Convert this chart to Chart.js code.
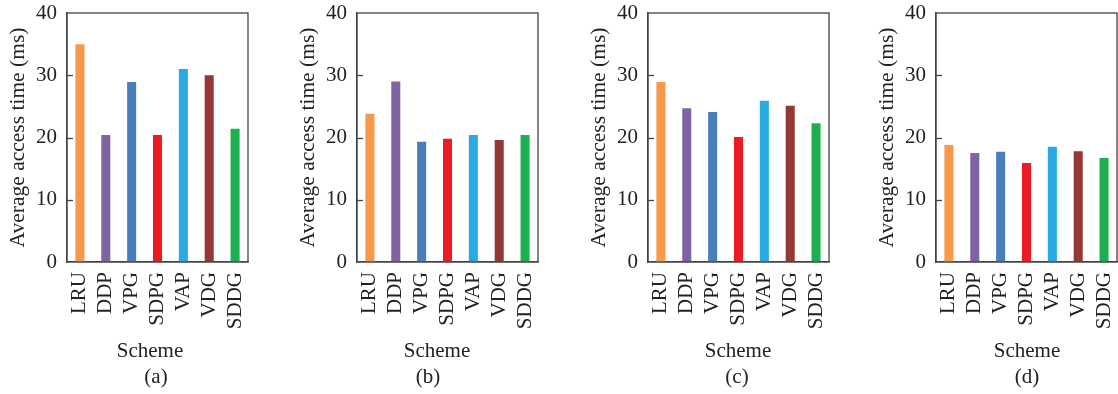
<!DOCTYPE html>
<html>
<head>
<meta charset="utf-8">
<script src="https://cdn.jsdelivr.net/npm/chart.js@4.4.0/dist/chart.umd.min.js"></script>
<style>
  body { margin: 0; background: #fff; }
  #wrap { position: relative; width: 1118px; height: 394px; overflow: hidden; }
  .panel { position: absolute; top: 0; width: 252px; height: 394px; }
  .caption {
    position: absolute; width: 120px; text-align: center;
    font-family: 'Liberation Serif', 'DejaVu Serif', serif;
    font-size: 21px; line-height: 21px; color: #222;
  }
</style>
</head>
<body>
<div id="wrap">
  <div class="panel" style="left:0px"><canvas id="chartA"></canvas></div>
  <div class="panel" style="left:290px"><canvas id="chartB"></canvas></div>
  <div class="panel" style="left:581px"><canvas id="chartC"></canvas></div>
  <div class="panel" style="left:869px"><canvas id="chartD"></canvas></div>

  <div class="caption" style="left:90px;  top:340px">Scheme</div>
  <div class="caption" style="left:377px; top:340px">Scheme</div>
  <div class="caption" style="left:678px; top:340px">Scheme</div>
  <div class="caption" style="left:967px; top:340px">Scheme</div>

  <div class="caption" id="capA" style="left:96px;  top:366px"></div>
  <div class="caption" id="capB" style="left:368px; top:366px"></div>
  <div class="caption" id="capC" style="left:677px; top:366px"></div>
  <div class="caption" id="capD" style="left:967px; top:366px"></div>
</div>
<script>
const schemes = ["LRU", "DDP", "VPG", "SDPG", "VAP", "VDG", "SDDG"];
const valuesA = [35.0, 20.4, 28.9, 20.4, 31.0, 30.0, 21.4];
const valuesB = [23.8, 29.0, 19.3, 19.8, 20.4, 19.6, 20.4];
const valuesC = [28.9, 24.7, 24.1, 20.1, 25.9, 25.1, 22.3];
const valuesD = [18.8, 17.5, 17.7, 15.9, 18.5, 17.8, 16.7];
const panelLabels = ["(a)", "(b)", "(c)", "(d)"];
const yTicks = [0, 10, 20, 30, 40];

const barColors = ["#f7984a", "#8064a2", "#4a7ebb", "#ed1c24", "#29abe2", "#953735", "#1db050"];
const axisColor = "#444";
const textColor = "#222";
const fontFamily = "'Liberation Serif', 'DejaVu Serif', serif";

// box around the plot plus small inward ticks on the y axis
const framePlugin = {
  id: "frame",
  afterDraw(chart) {
    const { ctx, chartArea: a, scales } = chart;
    ctx.save();
    ctx.strokeStyle = axisColor;
    ctx.lineWidth = 1.3;
    ctx.strokeRect(a.left, a.top, a.right - a.left, a.bottom - a.top);
    yTicks.slice(1, -1).forEach((v) => {
      const y = Math.round(scales.y.getPixelForValue(v)) + 0.5;
      ctx.beginPath();
      ctx.moveTo(a.left, y);
      ctx.lineTo(a.left + 6, y);
      ctx.stroke();
    });
    ctx.restore();
  },
};

function makeChart(id, values) {
  new Chart(document.getElementById(id), {
    type: "bar",
    data: {
      labels: schemes,
      datasets: [
        {
          data: values,
          backgroundColor: barColors,
          borderWidth: 0,
          barPercentage: 0.35,
          categoryPercentage: 1.0,
        },
      ],
    },
    options: {
      responsive: true,
      maintainAspectRatio: false,
      animation: false,
      layout: { padding: { top: 13, right: 4, bottom: 0, left: 0 } },
      plugins: {
        legend: { display: false },
        tooltip: { enabled: false },
      },
      scales: {
        x: {
          grid: { display: false, drawTicks: false },
          border: { display: true, color: axisColor, width: 1.3 },
          ticks: {
            color: textColor,
            font: { family: fontFamily, size: 21 },
            maxRotation: 90,
            minRotation: 90,
            padding: 10,
            autoSkip: false,
          },
          afterFit(scale) {
            scale.height = 132;
            scale.paddingLeft = 0;
            scale.paddingRight = 0;
          },
        },
        y: {
          min: 0,
          max: 40,
          grid: { display: false, drawTicks: false },
          border: { display: true, color: axisColor, width: 1.3 },
          afterBuildTicks(scale) {
            scale.ticks = yTicks.map((v) => ({ value: v }));
          },
          ticks: {
            color: textColor,
            font: { family: fontFamily, size: 21 },
            padding: 10,
          },
          title: {
            display: true,
            text: "Average access time (ms)",
            color: textColor,
            font: { family: fontFamily, size: 21.5 },
            padding: { top: 5, bottom: 0 },
          },
          afterFit(scale) {
            scale.width = 67;
            scale.paddingTop = 0;
            scale.paddingBottom = 0;
          },
        },
      },
    },
    plugins: [framePlugin],
  });
}

makeChart("chartA", valuesA);
makeChart("chartB", valuesB);
makeChart("chartC", valuesC);
makeChart("chartD", valuesD);

["capA", "capB", "capC", "capD"].forEach((id, i) => {
  document.getElementById(id).textContent = panelLabels[i];
});
</script>
</body>
</html>
